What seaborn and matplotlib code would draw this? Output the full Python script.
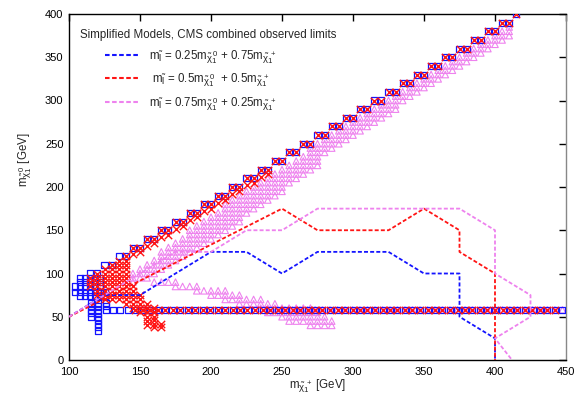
import matplotlib
matplotlib.use("Agg")
import matplotlib.pyplot as plt
import matplotlib._mathtext as _mt
import seaborn as sns
from matplotlib.lines import Line2D

sns.set_theme(style="white")
plt.rcParams["font.family"] = ["Liberation Sans", "DejaVu Sans"]
plt.rcParams["mathtext.fontset"] = "custom"
plt.rcParams["mathtext.rm"] = "Liberation Sans"
plt.rcParams["mathtext.it"] = "Liberation Sans"
plt.rcParams["mathtext.default"] = "regular"
_mt.SHRINK_FACTOR = 0.82  # gnuplot-like larger sub/superscripts

# ================= data =================
# dashed limit contours (m_chi1+ , m_chi1^0)
blue_line_x = [100, 125, 150, 200, 225, 250, 275, 325, 350, 375, 375, 400, 400]
blue_line_y = [50, 75, 75, 125, 125, 100, 125, 125, 100, 100, 50, 25, 0]
red_line_x = [100, 250, 275, 325, 350, 375, 375, 400, 400]
red_line_y = [50, 175, 150, 150, 175, 150, 125, 100, 0]
pink_line_x = [100, 175, 200, 225, 250, 275, 375, 400, 400, 425, 425, 400, 412]
pink_line_y = [50, 125, 125, 150, 150, 175, 175, 150, 100, 75, 50, 25, 0]

# scan points along the compressed diagonal
diag_x = [115, 120, 125, 130, 135, 140, 145, 150, 155, 160, 165, 170, 175, 180, 185,
          190, 195, 200, 205, 210, 215, 220, 225, 230, 235, 240, 245, 250, 255, 260,
          265, 270, 275, 280, 285, 290, 295, 300, 305, 310, 315, 320, 325, 330, 335,
          340, 345, 350, 355, 360, 365, 370, 375, 380, 385, 390, 395, 400, 405, 410, 415]
diag_y = [100, 100, 110, 110, 120, 120, 130, 130, 140, 140, 150, 150, 160, 160, 170,
          170, 180, 180, 190, 190, 200, 200, 210, 210, 220, 220, 230, 230, 240, 240,
          250, 250, 260, 260, 270, 270, 280, 280, 290, 290, 300, 300, 310, 310, 320,
          320, 330, 330, 340, 340, 350, 350, 360, 360, 370, 370, 380, 380, 390, 390, 400]

# scan points along the low-mass row (m_chi1^0 ~ 58 GeV)
row_x = [130.7, 136.0, 141.3, 146.5, 151.8, 157.1, 162.4, 167.7, 172.9, 178.2, 183.5,
         188.8, 194.1, 199.3, 204.6, 209.9, 215.2, 220.5, 225.7, 231.0, 236.3, 241.6,
         246.9, 252.1, 257.4, 262.7, 268.0, 273.3, 278.5, 283.8, 289.1, 294.4, 299.7,
         304.9, 310.2, 315.5, 320.8, 326.1, 331.3, 336.6, 341.9, 347.2, 352.5, 357.7,
         363.0, 368.3, 373.6, 378.9, 384.1, 389.4, 394.7, 400.0, 405.3, 410.5, 415.8,
         421.1, 426.4, 431.7, 436.9, 442.2, 447.5]
row_y = 58

# blue squares (0.25/0.75 model): low-mass cluster, by column
blue_cl_x = [104, 107.5, 111, 114.5, 118, 121.5, 125, 115.5, 120.5, 126]
blue_cl_y = [[79, 85],
             [74, 79, 85, 90, 95],
             [74, 79, 85, 90, 95],
             [74, 79, 85, 90, 95],
             [74, 79, 85, 90, 95],
             [74, 79, 85, 90, 95],
             [74, 79],
             [50, 54, 58, 62, 66],
             [34, 38, 42, 46, 50, 54, 58, 62, 66],
             [58, 62, 66]]

# red crosses (0.5/0.5 model): second diagonal row and low-mass cluster
red_diag2_x = [145, 150, 155, 160, 165, 170, 175, 180, 185, 190, 195, 200, 205, 210,
               215, 220, 225, 230, 235, 240]
red_diag2_y = [122, 125, 132, 135, 142, 145, 152, 155, 162, 165, 172, 175, 182, 185,
               192, 195, 202, 205, 212, 215]
red_cl_x = [115, 120, 125, 130, 135, 140, 145, 150, 155, 160, 165]
red_cl_y = [[85, 90, 95],
            [75, 80, 85, 90, 95, 100],
            [70, 75, 80, 85, 90, 95, 100, 105],
            [70, 75, 80, 85, 90, 95, 100, 105, 110],
            [70, 75, 80, 85, 90, 95, 100, 105, 110, 115],
            [65, 70, 75, 80, 85, 90, 95, 100, 105, 110, 115],
            [60, 65, 70, 75, 80, 85],
            [55, 60, 65, 70, 75],
            [40, 45, 50, 55, 60, 65],
            [38, 42, 46, 50, 55, 60],
            [38, 42]]

# violet triangles (0.75/0.25 model): band under the diagonal, by column
pink_band_x = [145, 150, 155, 160, 165, 170, 175, 180, 185, 190, 195, 200, 205, 210,
               215, 220, 225, 230, 235, 240, 245, 250, 255, 260, 265, 270, 275, 280,
               285, 290, 295, 300, 305, 310, 315, 320, 325, 330, 335, 340, 345, 350,
               355, 360, 365, 370, 375, 380, 385, 390, 395, 400, 405, 410]
pink_band_y = [[90, 95, 100],
               [95, 100, 105],
               [95, 100, 105, 110],
               [100, 105, 110, 115],
               [105, 110, 115, 120, 125],
               [110, 115, 120, 125, 130],
               [115, 120, 125, 130, 135],
               [120, 125, 130, 135, 140],
               [125, 130, 135, 140, 145, 150],
               [130, 135, 140, 145, 150, 155],
               [135, 140, 145, 150, 155, 160],
               [140, 145, 150, 155, 160, 165],
               [145, 150, 155, 160, 165, 170],
               [150, 155, 160, 165, 170, 175, 180],
               [155, 160, 165, 170, 175, 180, 185],
               [160, 165, 170, 175, 180, 185, 190],
               [170, 175, 180, 185, 190, 195],
               [175, 180, 185, 190, 195, 200],
               [180, 185, 190, 195, 200, 205],
               [185, 190, 195, 200, 205, 210],
               [190, 195, 200, 205, 210, 215],
               [195, 200, 205, 210, 215, 220],
               [205, 210, 215, 220, 225],
               [210, 215, 220, 225, 230],
               [215, 220, 225, 230, 235],
               [220, 225, 230, 235, 240, 245],
               [225, 230, 235, 240, 245, 250],
               [240, 245, 250, 255],
               [245, 250, 255, 260],
               [250, 255, 260, 265],
               [255, 260, 265, 270],
               [260, 265, 270, 275],
               [265, 270, 275, 280],
               [270, 275, 280, 285],
               [275, 280, 285, 290],
               [280, 285, 290, 295],
               [285, 290, 295, 300],
               [290, 295, 300, 305],
               [300, 305, 310],
               [305, 310, 315],
               [310, 315, 320],
               [315, 320, 325],
               [320, 325, 330],
               [325, 330, 335],
               [330, 335, 340],
               [335, 340, 345],
               [340, 345, 350],
               [345, 350, 355],
               [350, 355, 360],
               [355, 360, 365],
               [360, 365, 370],
               [365, 370, 375],
               [370, 375, 380],
               [375, 380, 385]]
# violet triangles: descending low-mass band, by row
pink_low_y = [90, 85, 80, 75, 70, 65, 60, 55, 50, 45, 40]
pink_low_x = [[160, 165, 170, 175],
              [175, 180, 185, 190],
              [190, 195, 200, 205, 210],
              [200, 205, 210, 215, 220],
              [210, 215, 220, 225, 230, 235],
              [220, 225, 230, 235, 240, 245],
              [235, 240, 245, 250, 255, 260, 265, 270],
              [240, 245, 250, 255, 260, 265, 270, 275],
              [250, 255, 260, 265, 270, 275, 280],
              [255, 260, 265, 270, 275, 280, 285],
              [270, 275, 280, 285]]

legend_labels = [
    r"$m_{\tilde{l}}$ = 0.25$m_{\tilde{\chi}_{1}^{\,0}}$ + 0.75$m_{\tilde{\chi}_{1}^{\,+}}$",
    r" $m_{\tilde{l}}$ = 0.5$m_{\tilde{\chi}_{1}^{\,0}}$  + 0.5$m_{\tilde{\chi}_{1}^{\,+}}$",
    r"$m_{\tilde{l}}$ = 0.75$m_{\tilde{\chi}_{1}^{\,0}}$ + 0.25$m_{\tilde{\chi}_{1}^{\,+}}$",
]
legend_title = "Simplified Models, CMS combined observed limits"
x_label = r"$m_{\tilde{\chi}_{1}^{\,+}}$ [GeV]"
y_label = r"$m_{\tilde{\chi}_{1}^{\,0}}$ [GeV]"
x_ticks = [100, 150, 200, 250, 300, 350, 400, 450]
y_ticks = [0, 50, 100, 150, 200, 250, 300, 350, 400]

BLUE = "#1414ff"
RED = "#ff1414"
PINK = "#ee82ee"


def unfold_cols(xs, yss):
    ox, oy = [], []
    for x, ys in zip(xs, yss):
        for y in ys:
            ox.append(x)
            oy.append(y)
    return ox, oy


def unfold_rows(ys, xss):
    ox, oy = [], []
    for y, xs in zip(ys, xss):
        for x in xs:
            ox.append(x)
            oy.append(y)
    return ox, oy


bcx, bcy = unfold_cols(blue_cl_x, blue_cl_y)
blue_x = diag_x + bcx + row_x
blue_y = diag_y + bcy + [row_y] * len(row_x)

rcx, rcy = unfold_cols(red_cl_x, red_cl_y)
red_row_x = row_x[3:60]
red_x = diag_x[5:] + red_diag2_x + rcx + red_row_x
red_y = diag_y[5:] + red_diag2_y + rcy + [row_y] * len(red_row_x)

pbx, pby = unfold_cols(pink_band_x, pink_band_y)
plx, ply = unfold_rows(pink_low_y, pink_low_x)
pink_row_x = row_x[22:]
pink_x = pbx + plx + pink_row_x
pink_y = pby + ply + [row_y] * len(pink_row_x)

# ================= plot =================
fig = plt.figure(figsize=(5.83, 4.08), dpi=100)
ax = fig.add_axes([69 / 583, 1 - 360 / 408, 497 / 583, 346 / 408])

sns.scatterplot(x=pink_x, y=pink_y, marker="^", s=22, facecolors="none",
                edgecolor=PINK, linewidth=0.8, ax=ax, zorder=2)
sns.scatterplot(x=blue_x, y=blue_y, marker="s", s=19, facecolors="none",
                edgecolor=BLUE, linewidth=0.9, ax=ax, zorder=3)
sns.scatterplot(x=red_x, y=red_y, marker="x", s=28, color=RED,
                linewidth=1.0, ax=ax, zorder=4)

for lx, ly, c in [(blue_line_x, blue_line_y, BLUE),
                  (red_line_x, red_line_y, RED),
                  (pink_line_x, pink_line_y, PINK)]:
    sns.lineplot(x=lx, y=ly, sort=False, estimator=None, color=c, lw=1.3,
                 linestyle=(0, (2.2, 1.2)), ax=ax, zorder=5)

ax.set_xlim(100, 450)
ax.set_ylim(0, 400)
ax.set_xticks(x_ticks)
ax.set_yticks(y_ticks)
ax.tick_params(direction="in", length=5, width=1, top=True, right=True,
               labelsize=8, colors="black")
ax.tick_params(axis="x", pad=5)
ax.tick_params(axis="y", pad=4)
for sp in ax.spines.values():
    sp.set_color("black")
    sp.set_linewidth(1.0)
ax.spines["right"].set_color("#888888")

ax.set_xlabel(x_label, fontsize=8.3, labelpad=0)
ax.set_ylabel(y_label, fontsize=8.3)
ax.yaxis.set_label_coords(-0.0704, 0.578)

ax.text(0.022, 0.939, legend_title, transform=ax.transAxes, fontsize=8.3,
        ha="left", va="center")
handles = [Line2D([0], [0], color=c, lw=1.5, linestyle=(0, (2.2, 1.2)))
           for c in (BLUE, RED, PINK)]
ax.legend(handles, legend_labels, loc="center left",
          bbox_to_anchor=(0.0724, 0.808), frameon=False, fontsize=8.3,
          handlelength=3.0, handletextpad=0.85, labelspacing=0.5,
          borderpad=0.0, borderaxespad=0.0)

fig.savefig("out.png", dpi=100)
